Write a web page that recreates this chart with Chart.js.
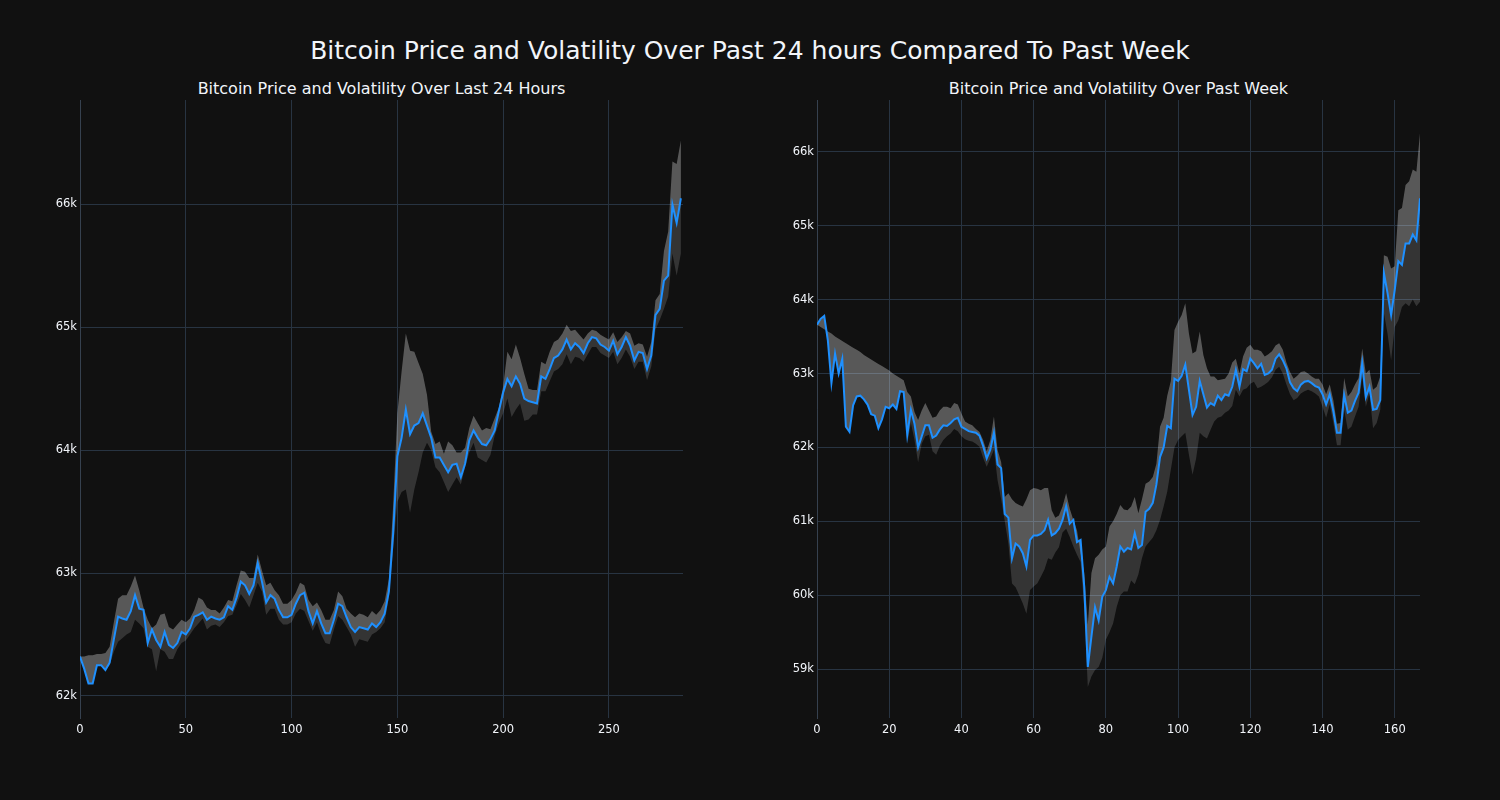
<!DOCTYPE html>
<html><head><meta charset="utf-8">
<script src="https://cdn.jsdelivr.net/npm/chart.js@4.4.1/dist/chart.umd.min.js"></script>
<style>
html,body{margin:0;padding:0;background:#111111;}
body{width:1500px;height:800px;position:relative;overflow:hidden;font-family:"DejaVu Sans",sans-serif;color:#f2f5fa;}
.t{position:absolute;white-space:nowrap;line-height:1;transform:translate(-50%,-50%);}
#main{left:750px;top:50px;font-size:25px;}
#t1{left:381.5px;top:88.5px;font-size:16px;}
#t2{left:1118.5px;top:88.5px;font-size:16px;}
canvas{position:absolute;top:0;}
#c1{left:0;} #c2{left:750px;}
</style></head>
<body>
<div class="t" id="main">Bitcoin Price and Volatility Over Past 24 hours Compared To Past Week</div>
<div class="t" id="t1">Bitcoin Price and Volatility Over Last 24 Hours</div>
<div class="t" id="t2">Bitcoin Price and Volatility Over Past Week</div>
<canvas id="c1" width="750" height="800"></canvas>
<canvas id="c2" width="750" height="800"></canvas>
<script>
// ---- Last 24 hours (x index step 2, values in thousands USD) ----
const dayStep = 2;
const dayPrice = [62.32,62.22,62.10,62.10,62.25,62.25,62.21,62.27,62.46,62.645,62.63,62.62,62.69,62.82,62.71,62.70,62.43,62.54,62.455,62.40,
62.52,62.415,62.39,62.43,62.52,62.50,62.55,62.645,62.66,62.68,62.62,62.645,62.63,62.62,62.64,62.73,62.70,62.80,62.93,62.90,
62.83,62.90,63.08,62.93,62.76,62.82,62.79,62.70,62.64,62.64,62.66,62.75,62.82,62.84,62.69,62.59,62.69,62.59,62.51,62.51,
62.62,62.75,62.73,62.64,62.56,62.52,62.56,62.55,62.54,62.59,62.56,62.60,62.67,62.85,63.32,63.95,64.10,64.33,64.13,64.20,
64.22,64.30,64.20,64.10,63.94,63.94,63.88,63.82,63.88,63.89,63.78,63.89,64.08,64.16,64.10,64.05,64.04,64.09,64.16,64.32,
64.47,64.58,64.52,64.60,64.54,64.42,64.40,64.39,64.38,64.60,64.58,64.66,64.75,64.77,64.82,64.90,64.82,64.87,64.84,64.79,
64.87,64.92,64.91,64.86,64.84,64.81,64.89,64.78,64.84,64.92,64.85,64.73,64.80,64.79,64.66,64.77,65.10,65.15,65.38,65.42,
66.00,65.85,66.05];
const dayUpper = [62.32,62.32,62.33,62.33,62.34,62.34,62.35,62.40,62.60,62.79,62.82,62.82,62.89,62.98,62.86,62.72,62.62,62.55,62.58,62.66,
62.67,62.56,62.54,62.58,62.62,62.60,62.63,62.70,62.80,62.78,62.72,62.70,62.70,62.67,62.72,62.78,62.77,62.90,63.02,63.01,
62.96,62.96,63.15,63.02,62.90,62.92,62.86,62.82,62.75,62.75,62.78,62.84,62.92,62.90,62.78,62.73,62.76,62.70,62.62,62.62,
62.70,62.85,62.81,62.71,62.67,62.64,62.67,62.66,62.64,62.69,62.66,62.70,62.77,62.95,63.55,64.30,64.64,64.95,64.81,64.80,
64.71,64.62,64.45,64.15,64.05,64.07,63.97,64.07,64.04,63.98,63.98,64.02,64.18,64.28,64.22,64.16,64.18,64.17,64.26,64.35,
64.52,64.80,64.74,64.86,64.75,64.62,64.50,64.49,64.49,64.72,64.70,64.80,64.88,64.90,64.95,65.02,64.97,64.98,64.94,64.90,
64.95,64.98,64.97,64.94,64.92,64.90,64.96,64.88,64.92,64.97,64.95,64.85,64.87,64.86,64.76,64.88,65.22,65.27,65.62,65.78,
66.35,66.33,66.52];
const dayLower = [62.32,62.22,62.10,62.10,62.25,62.25,62.21,62.25,62.36,62.44,62.47,62.50,62.52,62.62,62.59,62.55,62.40,62.38,62.20,62.38,
62.36,62.30,62.30,62.38,62.43,62.45,62.50,62.55,62.59,62.63,62.54,62.57,62.58,62.56,62.60,62.65,62.66,62.74,62.83,62.78,
62.72,62.82,62.92,62.85,62.66,62.71,62.71,62.62,62.58,62.58,62.60,62.67,62.71,62.69,62.61,62.53,62.60,62.50,62.43,62.42,
62.54,62.65,62.62,62.56,62.50,62.40,62.46,62.45,62.44,62.50,62.52,62.55,62.60,62.80,63.20,63.58,63.66,63.68,63.49,63.68,
63.82,63.98,64.06,64.00,63.86,63.82,63.74,63.66,63.72,63.78,63.72,63.86,63.98,64.06,63.94,63.92,63.90,63.96,64.12,64.22,
64.30,64.42,64.27,64.33,64.38,64.24,64.25,64.29,64.29,64.48,64.48,64.56,64.64,64.66,64.70,64.78,64.70,64.76,64.75,64.72,
64.78,64.84,64.84,64.79,64.77,64.75,64.80,64.70,64.75,64.82,64.76,64.66,64.72,64.72,64.57,64.68,64.98,65.06,65.15,65.25,
65.60,65.42,65.60];
const dayXTicks = {max: 285, step: 50};
const dayYTicks = {min: 61.82, max: 66.85};

// ---- Past week (x index step 1) ----
const weekStep = 1;
const weekPrice = [63.66,63.74,63.78,63.45,62.87,63.27,63.00,63.20,62.28,62.21,
62.57,62.69,62.70,62.65,62.58,62.45,62.43,62.26,62.38,62.55,
62.53,62.58,62.52,62.76,62.75,62.17,62.51,62.32,62.00,62.15,
62.30,62.30,62.13,62.16,62.24,62.30,62.29,62.33,62.38,62.40,
62.28,62.25,62.22,62.21,62.20,62.16,62.02,61.85,61.97,62.20,
61.77,61.72,61.10,61.05,60.50,60.70,60.66,60.57,60.39,60.75,
60.81,60.81,60.83,60.88,61.02,60.81,60.84,60.90,61.02,61.21,
60.97,61.02,60.72,60.75,60.12,59.03,59.44,59.84,59.66,59.98,
60.07,60.25,60.16,60.39,60.66,60.59,60.64,60.62,60.84,60.64,
60.68,61.13,61.17,61.25,61.50,61.87,62.00,62.29,62.26,62.93,
62.90,62.97,63.12,62.78,62.44,62.55,62.90,62.72,62.54,62.60,
62.57,62.70,62.64,62.72,62.70,62.82,63.05,62.82,63.06,63.03,
63.20,63.14,63.07,63.13,62.98,63.00,63.05,63.20,63.26,63.18,
63.07,62.88,62.80,62.76,62.85,62.89,62.90,62.87,62.83,62.81,
62.72,62.58,62.72,62.49,62.20,62.20,62.71,62.47,62.50,62.63,
62.74,63.14,62.68,62.82,62.51,62.52,62.64,64.36,64.09,63.79,
64.13,64.52,64.47,64.76,64.76,64.88,64.80,65.37];
const weekUpper = [63.66,63.63,63.60,63.57,63.54,63.50,63.47,63.44,63.41,63.38,
63.35,63.32,63.29,63.25,63.22,63.19,63.16,63.13,63.10,63.07,
63.04,63.00,62.97,62.94,62.91,62.75,62.69,62.48,62.37,62.50,
62.60,62.50,62.40,62.42,62.50,62.55,62.55,62.53,62.60,62.58,
62.46,62.35,62.32,62.30,62.25,62.21,62.10,61.95,62.10,62.42,
61.97,61.80,61.33,61.38,61.30,61.25,61.22,61.20,61.30,61.42,
61.45,61.44,61.42,61.45,61.45,61.15,61.05,61.08,61.20,61.38,
61.17,61.02,60.88,60.57,60.30,59.60,60.30,60.50,60.55,60.62,
60.66,60.93,61.00,61.10,61.22,61.16,61.15,61.20,61.33,61.11,
61.30,61.51,61.54,61.60,61.78,62.28,62.40,62.70,62.90,63.59,
63.70,63.79,63.95,63.54,63.27,63.30,63.57,63.25,63.07,62.96,
62.96,62.91,62.92,62.93,63.00,63.15,63.20,63.00,63.23,63.35,
63.39,63.32,63.32,63.30,63.23,63.26,63.30,63.38,63.41,63.32,
63.15,63.02,62.93,62.97,63.02,63.03,63.00,62.96,62.93,62.93,
62.85,62.72,62.85,62.64,62.32,62.33,62.94,62.69,62.75,62.85,
62.94,63.34,63.00,63.05,62.78,62.82,62.96,64.60,64.58,64.42,
64.45,65.21,65.24,65.55,65.60,65.76,65.73,66.25];
const weekLower = [63.66,63.74,63.78,63.45,62.87,63.27,63.00,63.20,62.28,62.21,
62.57,62.69,62.70,62.65,62.58,62.45,62.43,62.26,62.38,62.55,
62.53,62.58,62.52,62.76,62.75,62.05,62.33,62.10,61.80,62.05,
62.15,62.17,61.95,61.90,62.02,62.10,62.15,62.19,62.25,62.22,
62.15,62.11,62.09,62.08,62.05,62.01,61.86,61.74,61.85,61.97,
61.56,61.30,61.00,60.70,60.16,60.11,60.00,59.89,59.75,60.07,
60.12,60.16,60.25,60.35,60.50,60.48,60.58,60.65,60.85,60.90,
60.79,60.66,60.55,60.45,59.84,58.76,58.90,58.99,59.03,59.15,
59.40,59.50,59.62,59.84,60.00,60.05,60.05,60.20,60.15,60.28,
60.50,60.66,60.72,60.78,60.88,61.02,61.20,61.40,61.70,62.00,
62.10,62.15,62.20,61.90,61.63,61.85,62.20,62.15,62.12,62.24,
62.35,62.40,62.42,62.47,62.50,62.56,62.78,62.69,62.78,62.80,
62.86,62.89,62.80,62.82,62.85,62.89,62.95,63.05,63.09,63.00,
62.85,62.72,62.64,62.67,62.73,62.76,62.78,62.76,62.73,62.69,
62.55,62.40,62.58,62.33,62.03,62.03,62.51,62.24,62.28,62.42,
62.55,62.96,62.55,62.73,62.26,62.33,62.51,63.82,63.54,63.18,
63.63,63.72,63.90,63.95,63.91,64.00,63.91,63.97];
const weekXTicks = {max: 167, step: 20};
const weekYTicks = {min: 58.34, max: 66.70};

const GRID = '#283442', SPINE = '#36414f', TXT = '#f2f5fa';
const LINE = '#1e90ff';
const LIGHT = 'rgba(255,255,255,0.30)', DARK = 'rgba(255,255,255,0.15)';
const TICKFONT = {family: 'DejaVu Sans', size: 11.5};

function makeChart(id, step, price, upper, lower, xt, yt, yAxisWidth, padRight) {
  const pts = arr => arr.map((v, i) => ({x: i * step, y: v}));
  return new Chart(document.getElementById(id), {
    type: 'line',
    data: {datasets: [
      {data: pts(price), borderColor: LINE, borderWidth: 2, pointRadius: 0, tension: 0, fill: false},
      {data: pts(upper), borderColor: 'rgba(0,0,0,0)', borderWidth: 0, pointRadius: 0, tension: 0,
       fill: {target: 0, above: LIGHT, below: LIGHT}},
      {data: pts(lower), borderColor: 'rgba(0,0,0,0)', borderWidth: 0, pointRadius: 0, tension: 0,
       fill: {target: 0, above: DARK, below: DARK}}
    ]},
    options: {
      responsive: false, animation: false, devicePixelRatio: 1,
      layout: {padding: {left: 0, right: padRight, top: 100, bottom: 0}},
      plugins: {legend: {display: false}, tooltip: {enabled: false}, title: {display: false}},
      scales: {
        x: {type: 'linear', min: 0, max: xt.max,
            ticks: {stepSize: xt.step, includeBounds: false, color: TXT, font: TICKFONT, padding: 5, maxRotation: 0, autoSkip: false},
            grid: {color: GRID, drawTicks: false, lineWidth: 1},
            border: {display: false},
            afterFit: s => { s.height = 82; }},
        y: {type: 'linear', min: yt.min, max: yt.max,
            ticks: {stepSize: 1, includeBounds: false, color: TXT, font: TICKFONT, padding: 3,
                    callback: v => Math.round(v) + 'k'},
            grid: {color: GRID, drawTicks: false, lineWidth: 1},
            border: {display: true, color: SPINE, width: 1},
            afterFit: s => { s.width = yAxisWidth; }}
      }
    }
  });
}

makeChart('c1', dayStep, dayPrice, dayUpper, dayLower, dayXTicks, dayYTicks, 80, 67);
makeChart('c2', weekStep, weekPrice, weekUpper, weekLower, weekXTicks, weekYTicks, 67, 80);
</script>
</body></html>
